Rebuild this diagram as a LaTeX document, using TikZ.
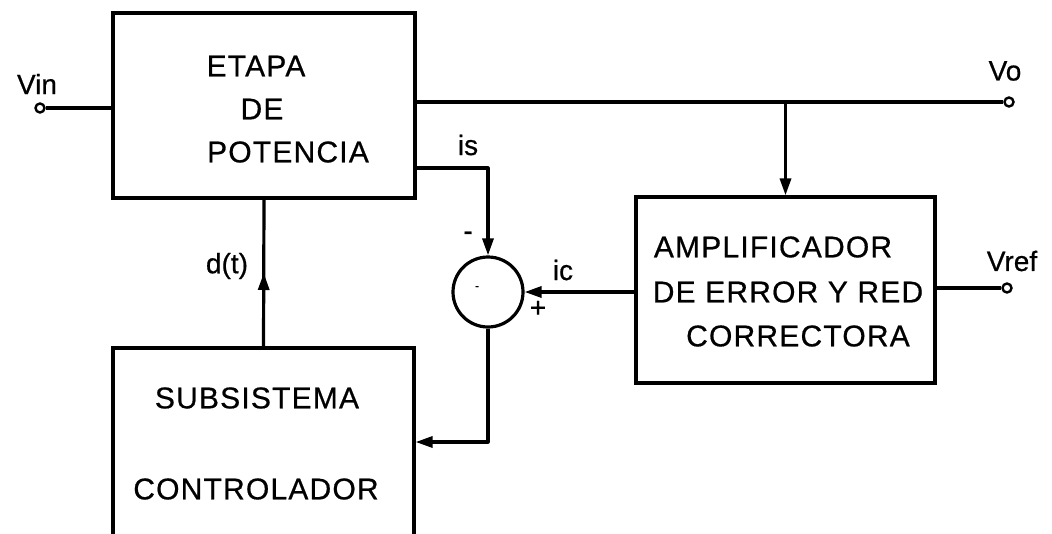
\documentclass[tikz,border=0pt]{standalone}
\usepackage{fontspec}
\setmainfont{Liberation Sans}[FakeBold=0.6]
\newfontfamily\boxfont[LetterSpace=4,FakeBold=0.6]{Liberation Sans}
\usetikzlibrary{arrows.meta,decorations.markings}
\begin{document}
\begin{tikzpicture}[x=1pt,y=-1pt,
  wire/.style={line width=3.2pt, line join=round},
  blk/.style={draw, line width=3.2pt, inner sep=0pt},
  arr/.style={-{Triangle[length=17pt,width=11pt]}},
  midarr/.style={postaction={decorate}, decoration={markings, mark=at position 0.5 with {\arrow{Triangle[length=17pt,width=11pt]}}}},
  btxt/.style={font=\boxfont\fontsize{30}{36}\selectfont, inner sep=0pt},
  ltxt/.style={font=\fontsize{28}{34}\selectfont, inner sep=0pt},
  term/.style={circle, draw, line width=2.4pt, minimum size=9pt, inner sep=0pt, fill=white}]
\useasboundingbox (0,0) rectangle (1052,533);
\clip (0,0) rectangle (1052,533);

% blocks
\node[blk, minimum width=302pt, minimum height=185pt] (etapa) at (264,105.5) {};
\node[blk, minimum width=299pt, minimum height=186pt] (amp) at (785.5,290) {};
\node[blk, minimum width=301pt, minimum height=300pt] (sub) at (263.5,498) {};
\node[circle, draw, line width=3.2pt, minimum size=70pt, inner sep=0pt] (sum) at (488,292) {};

% block texts
\node[btxt] (t1) at (256,66) {ETAPA};
\node[btxt] (t2) at (262,109) {DE};
\node[btxt] (t3) at (288,152) {POTENCIA};
\node[btxt] (t4) at (773,247) {AMPLIFICADOR};
\node[btxt] (t5) at (788,292) {DE ERROR Y RED};
\node[btxt] (t6) at (798,336) {CORRECTORA};
\node[btxt] (t7) at (257,398) {SUBSISTEMA};
\node[btxt] (t8) at (256,489) {CONTROLADOR};

% terminals
\node[term] (vin) at (40,108) {};
\node[term] (vo) at (1009,102) {};
\node[term] (vref) at (1007,288) {};

% wires
\coordinate (isc) at (488,168);
\coordinate (fb) at (488,442);
\draw[wire] (vin) -- (vin -| etapa.west);
\draw[wire] (etapa.east |- vo) -- (vo);
\draw[wire, arr] (amp.north |- vo) -- (amp.north);
\draw[wire, arr] (etapa.east |- isc) -- (isc) -- (sum.north);
\draw[wire, arr] (amp.west |- sum) -- (sum.east);
\draw[wire] (amp.east |- vref) -- (vref);
\draw[wire, arr] (sum.south) -- (fb) -- (fb -| sub.east);
\draw[wire, midarr] (sub.north) -- (etapa.south);

% labels
\node[ltxt] (lvin) at (37,84) {Vin};
\node[ltxt] (lvo) at (1005,71) {Vo};
\node[ltxt] (lvref) at (1012,261) {Vref};
\node[ltxt] (lis) at (468,145) {is};
\node[ltxt] (lic) at (563,270) {ic};
\node[ltxt] (ldt) at (227,266) {d(t)};
\node[ltxt] (lminus) at (468,236) {-};
\node[ltxt] (lplus) at (538,309) {+};
\node[font=\fontsize{12}{14}\selectfont, inner sep=0pt] (ldot) at (477,288) {-};
\end{tikzpicture}
\end{document}
